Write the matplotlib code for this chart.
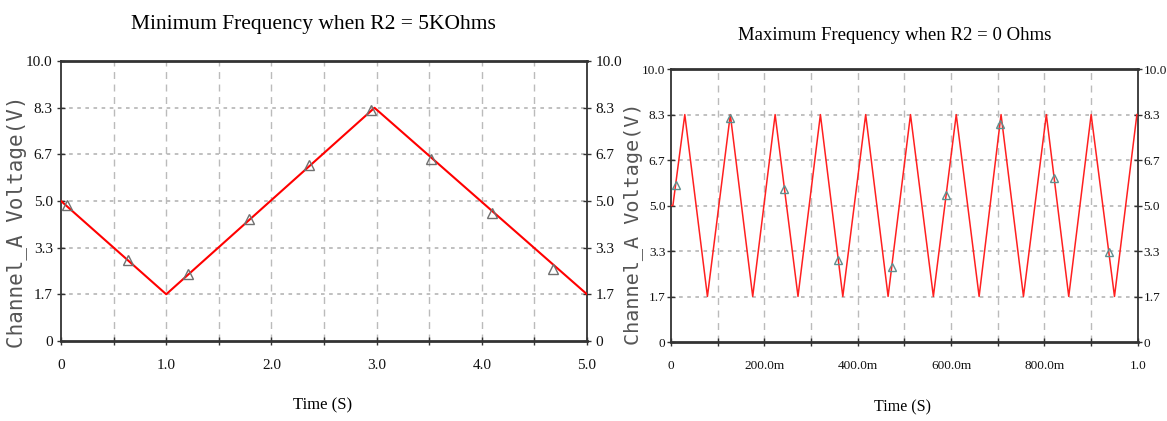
import numpy as np
import matplotlib
matplotlib.use('Agg')
import matplotlib.pyplot as plt
from matplotlib.ticker import MultipleLocator

'''Data read from the scope traces'''

#Left trace: R2 = 5 kOhm (time in s, voltage in V)
t_min = [0.0, 1.0, 2.98, 5.0]
v_min = [5.0, 1.67, 8.33, 1.67]
#Triangle markers on the left trace
tm_min = [0.054, 0.635, 1.21, 1.79, 2.36, 2.95, 3.52, 4.10, 4.68]
vm_min = [4.85, 2.9, 2.4, 4.35, 6.3, 8.24, 6.5, 4.58, 2.58]

#Right trace: R2 = 0 Ohm
t_max = [0.0, 0.004, 0.0295, 0.078, 0.127, 0.175, 0.223, 0.272, 0.320, 0.368,
         0.417, 0.465, 0.513, 0.562, 0.611, 0.660, 0.707, 0.755, 0.804, 0.852,
         0.900, 0.950, 0.998]
v_max = [5.0, 5.0, 8.33, 1.67, 8.33, 1.67, 8.33, 1.67, 8.33, 1.67,
         8.33, 1.67, 8.33, 1.67, 8.33, 1.67, 8.33, 1.67, 8.33, 1.67,
         8.33, 1.67, 8.33]
tm_max = [0.011, 0.127, 0.242, 0.357, 0.474, 0.590, 0.705, 0.821, 0.938]
vm_max = [5.75, 8.2, 5.6, 3.0, 2.75, 5.4, 8.0, 6.0, 3.3]

y_ticks = [0, 5/3, 10/3, 5.0, 20/3, 25/3, 10.0]
y_labels = ['0', '1.7', '3.3', '5.0', '6.7', '8.3', '10.0']
x_ticks_min = [0, 1, 2, 3, 4, 5]
x_labels_min = ['0', '1.0', '2.0', '3.0', '4.0', '5.0']
x_ticks_max = [0, 0.2, 0.4, 0.6, 0.8, 1.0]
x_labels_max = ['0', '200.0m', '400.0m', '600.0m', '800.0m', '1.0']

serif = 'Liberation Serif'
mono = 'DejaVu Sans Mono'

fig = plt.figure(figsize=(11.67, 4.21), dpi=100)

def style(ax, xt, xl, xmax, minor, fs, ypad):
    ax.set_xlim(0, xmax)
    ax.set_ylim(0, 10)
    ax.set_xticks(xt)
    ax.set_xticklabels(xl, fontfamily=serif, fontsize=fs)
    ax.xaxis.set_minor_locator(MultipleLocator(minor))
    ax.set_yticks(y_ticks)
    ax.set_yticklabels(y_labels, fontfamily=serif, fontsize=fs)
    ax.tick_params(axis='both', which='both', direction='inout', length=6,
                   width=1, color='#333333', labelcolor='#111111')
    ax.tick_params(axis='y', right=True, labelright=True, pad=ypad)
    ax.tick_params(axis='x', pad=10)
    #Grid: dashed vertical, dotted horizontal
    for x in np.arange(minor, xmax - minor / 2, minor):
        ax.axvline(x, color='#bbbbbb', lw=1, ls=(0, (5, 4)), zorder=0)
    for y in y_ticks[1:-1]:
        ax.axhline(y, color='#bbbbbb', lw=1.3, ls=(0, (2, 2.5)), zorder=0)
    for s in ['top', 'bottom']:
        ax.spines[s].set_linewidth(2)
        ax.spines[s].set_color('#333333')
    for s in ['left', 'right']:
        ax.spines[s].set_linewidth(1.3)
        ax.spines[s].set_color('#333333')

#Left panel
ax1 = fig.add_axes([0.0523, 0.190, 0.4507, 0.665])
ax1.plot(t_min, v_min, color='#ff0000', lw=1.5, zorder=3)
ax1.plot(tm_min, vm_min, ls='none', marker='^', ms=7, mfc='none',
         mec='#707070', mew=1, zorder=4)
style(ax1, x_ticks_min, x_labels_min, 5.0, 0.5, 11, 3)

#Right panel
ax2 = fig.add_axes([0.575, 0.1876, 0.400, 0.6485])
ax2.plot(t_max, v_max, color='#ff2020', lw=1.1, zorder=3)
ax2.plot(tm_max, vm_max, ls='none', marker='^', ms=6, mfc='none',
         mec='#5f8f8f', mew=1, zorder=4)
style(ax2, x_ticks_max, x_labels_max, 1.0, 0.1, 9.5, 1)

#Titles and labels
fig.text(313/1167, 1 - 25/421, 'Minimum Frequency when R2 = 5KOhms',
         ha='center', va='center', fontfamily=serif, fontsize=15.5)
fig.text(895/1167, 1 - 35/421, 'Maximum Frequency when R2 = 0 Ohms',
         ha='center', va='center', fontfamily=serif, fontsize=13.5)
fig.text(323/1167, 1 - 405/421, 'Time (S)', ha='center', va='center',
         fontfamily=serif, fontsize=12)
fig.text(903/1167, 1 - 407/421, 'Time (S)', ha='center', va='center',
         fontfamily=serif, fontsize=11.5)
fig.text(17/1167, 1 - 222/421, 'Channel_A Voltage(V)', rotation=90,
         ha='center', va='center', fontfamily=mono, fontsize=15, color='#555555')
fig.text(633/1167, 1 - 224/421, 'Channel_A Voltage(V)', rotation=90,
         ha='center', va='center', fontfamily=mono, fontsize=14.5, color='#555555')

fig.savefig('out.png', dpi=100)
